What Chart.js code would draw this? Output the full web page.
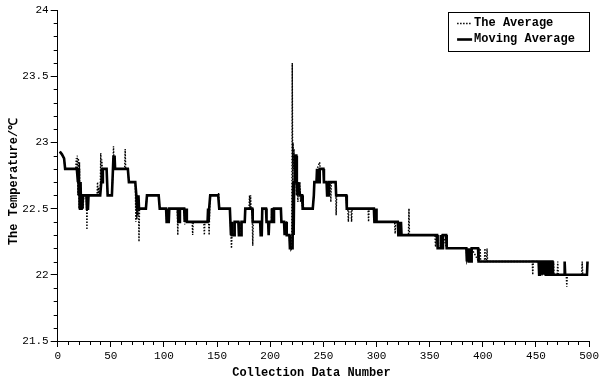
<!DOCTYPE html>
<html>
<head>
<meta charset="utf-8">
<script src="https://cdn.jsdelivr.net/npm/chart.js@4.4.1/dist/chart.umd.min.js"></script>
<style>
  html, body { margin: 0; padding: 0; background: #fff; }
  #wrap { width: 601px; height: 382px; }
</style>
</head>
<body>
<div id="wrap"><canvas id="c" width="601" height="382"></canvas></div>
<script>
// ---- data ----
const seriesNames = ["The Average", "Moving Average"];
const xAxisTitle = "Collection Data Number";
const yAxisTitle = "The Temperature/\u2103";
const xTickValues = [0, 50, 100, 150, 200, 250, 300, 350, 400, 450, 500];
const xTickLabels = ["0", "50", "100", "150", "200", "250", "300", "350", "400", "450", "500"];
const yTickValues = [21.5, 22, 22.5, 23, 23.5, 24];
const yTickLabels = ["21.5", "22", "22.5", "23", "23.5", "24"];

// "The Average" (dotted) : [collection number, temperature]
const averagePoints = [
  [2,22.93],[6,22.88],[7,22.8],[17,22.8],[17.5,22.88],[18,22.8],[18.5,22.9],[19,22.6],[19.5,22.88],[20,22.5],
  [20.5,22.85],[21,22.5],[21.5,22.7],[22,22.5],[23,22.6],[24,22.5],[24.5,22.6],[27,22.6],[27.5,22.34],[28,22.6],
  [37,22.6],[37.5,22.7],[38,22.6],[38.5,22.66],[39,22.6],[40,22.6],[40.5,22.92],[41,22.7],[41.5,22.87],[42,22.8],
  [46,22.8],[47,22.6],[51,22.6],[52,22.8],[52.5,22.97],[53,22.85],[53.5,22.9],[54,22.8],[63,22.8],[63.5,22.95],
  [64,22.8],[66,22.8],[67,22.7],[73,22.7],[73.5,22.4],[74,22.6],[74.5,22.42],[75,22.6],[75.5,22.45],[76,22.5],
  [76.5,22.25],[77,22.5],[83,22.5],[84,22.6],[95,22.6],[96,22.5],[102,22.5],[102.5,22.4],[104.5,22.4],[105,22.5],
  [112.5,22.5],[113,22.3],[113.5,22.5],[114,22.4],[115,22.5],[119,22.5],[119.5,22.38],[120,22.5],[121,22.4],[126.5,22.4],
  [127,22.3],[127.5,22.4],[137.5,22.4],[138,22.3],[138.5,22.4],[142,22.4],[142.5,22.3],[143,22.5],[143.5,22.6],[151,22.6],
  [151.5,22.62],[152,22.5],[162,22.5],[163,22.3],[163.5,22.2],[164,22.3],[166,22.3],[166.5,22.4],[170,22.4],[171,22.3],
  [173,22.4],[176,22.4],[176.5,22.5],[180,22.5],[180.5,22.6],[181,22.5],[181.5,22.6],[182,22.5],[183,22.5],[183.5,22.22],
  [184,22.4],[190.5,22.4],[191,22.3],[192,22.4],[192.5,22.5],[196,22.5],[196.5,22.4],[198,22.4],[198.5,22.3],[199,22.4],
  [201,22.4],[201.5,22.5],[210,22.5],[210.5,22.4],[215,22.4],[215.5,22.3],[218,22.3],[218.5,22.2],[219,22.3],[219.5,22.19],
  [220.3,22.2],[220.7,23.6],[221.1,22.7],[221.5,23.0],[222,22.8],[222.5,22.95],[223,22.7],[224,22.9],[224.5,22.6],[225,22.75],
  [226,22.55],[226.5,22.7],[227,22.6],[228,22.7],[228.5,22.55],[229,22.6],[230.5,22.5],[231,22.55],[231.5,22.5],[240,22.5],
  [241,22.6],[241.5,22.7],[243.5,22.7],[244,22.8],[246.5,22.85],[247,22.8],[250,22.8],[250.5,22.7],[253,22.7],[253.5,22.6],
  [255,22.6],[255.5,22.7],[256.5,22.7],[257,22.55],[257.5,22.7],[261.5,22.7],[262,22.45],[262.5,22.6],[271.5,22.6],[272,22.5],
  [273,22.5],[273.5,22.4],[274,22.5],[276,22.5],[276.5,22.4],[277,22.5],[292,22.5],[292.5,22.4],[293,22.5],[297.5,22.5],
  [298,22.4],[299,22.45],[300,22.4],[317,22.4],[317.5,22.31],[318,22.4],[320,22.4],[320.5,22.3],[321,22.38],[321.5,22.3],
  [323.5,22.3],[330,22.3],[330.5,22.5],[331,22.3],[355,22.3],[355.5,22.21],[356,22.3],[357,22.3],[357.5,22.2],[360,22.2],
  [360.5,22.3],[362.5,22.3],[366,22.2],[384.5,22.2],[385,22.1],[389.5,22.2],[396,22.1],[396.5,22.15],[397,22.1],[397.5,22.2],
  [398,22.1],[401.5,22.1],[402,22.2],[402.5,22.1],[403.5,22.1],[404,22.2],[404.5,22.1],[446.5,22.1],[447,22.0],[447.5,22.1],
  [452.5,22.1],[453,22.0],[466,22.0],[466.5,22.1],[467,22.0],[470,22.0],[470.5,22.1],[471,22.0],[478.5,22.0],[479,21.91],
  [479.5,22.0],[493,22.0],[493.5,22.1],[494,22.0],[498,22.0],[498.5,22.1]
];

// "Moving Average" (thick solid) : [collection number, temperature]
const movingAveragePoints = [
  [2,22.93],[4,22.91],[6,22.88],[7,22.8],[18,22.8],[19,22.7],[19.5,22.8],[20,22.6],[20.5,22.7],[21,22.5],
  [21.5,22.7],[22,22.5],[22.5,22.6],[23,22.5],[24,22.6],[27,22.6],[27.5,22.5],[28.5,22.5],[29,22.6],[40,22.6],
  [41,22.7],[41.5,22.8],[42,22.7],[42.5,22.8],[46,22.8],[47,22.6],[51,22.6],[52,22.8],[52.5,22.9],[53,22.8],
  [53.5,22.9],[54,22.8],[66,22.8],[67,22.7],[73,22.7],[74,22.6],[74.5,22.5],[75,22.6],[75.5,22.5],[76,22.6],
  [76.5,22.5],[83,22.5],[84,22.6],[95,22.6],[96,22.5],[102,22.5],[102.5,22.4],[104.5,22.4],[105,22.5],[113,22.5],
  [113.5,22.4],[114,22.5],[114.5,22.4],[115,22.5],[119,22.5],[119.5,22.4],[120,22.5],[120.5,22.4],[121,22.5],[121.5,22.4],
  [141,22.4],[141.5,22.5],[142,22.4],[142.5,22.5],[143.5,22.6],[151,22.6],[152,22.5],[162,22.5],[162.5,22.4],[163,22.3],
  [163.5,22.4],[164,22.3],[166,22.3],[166.5,22.4],[170,22.4],[170.5,22.3],[172.5,22.3],[173,22.4],[176,22.4],[176.5,22.5],
  [183,22.5],[183.5,22.4],[190.5,22.4],[191,22.3],[192,22.3],[192.5,22.5],[196,22.5],[196.5,22.4],[198,22.4],[198.5,22.3],
  [199,22.4],[201,22.4],[201.5,22.5],[202,22.4],[202.5,22.5],[203,22.4],[203.5,22.5],[210,22.5],[210.5,22.4],[213,22.4],
  [213.5,22.3],[214,22.4],[214.5,22.3],[215,22.4],[215.5,22.3],[218,22.3],[218.5,22.2],[221,22.2],[221.5,22.7],[222,22.3],
  [222.5,22.7],[223,22.9],[224.5,22.9],[225,22.7],[226,22.6],[226.5,22.7],[227,22.7],[228,22.6],[230,22.6],[230.5,22.5],
  [240,22.5],[241,22.6],[241.5,22.7],[243.5,22.7],[244,22.8],[245,22.7],[245.5,22.8],[246,22.7],[246.5,22.8],[250,22.8],
  [250.5,22.7],[253,22.7],[253.5,22.6],[255,22.6],[255.5,22.7],[261.5,22.7],[262,22.6],[271.5,22.6],[272,22.5],[297.5,22.5],
  [298,22.4],[298.5,22.5],[299,22.4],[299.5,22.5],[300,22.4],[320,22.4],[320.5,22.3],[321,22.4],[321.5,22.3],[322,22.4],
  [322.5,22.3],[323,22.4],[323.5,22.3],[357,22.3],[357.5,22.2],[360,22.2],[360.5,22.3],[361,22.2],[361.5,22.3],[362,22.2],
  [362.5,22.3],[365.5,22.3],[366,22.2],[384.5,22.2],[385,22.1],[385.5,22.2],[386,22.1],[386.5,22.2],[387,22.1],[387.5,22.2],
  [388,22.1],[388.5,22.2],[389,22.1],[389.5,22.2],[395.5,22.2],[396,22.1],[452.5,22.1],[453,22.0],[453.5,22.1],[455,22.1],
  [455.5,22.0],[456,22.1],[457,22.1],[457.5,22.0],[458,22.1],[459,22.1],[459.5,22.0],[460,22.1],[461,22.1],[461.5,22.0],
  [462,22.1],[463,22.1],[463.5,22.0],[464,22.1],[465.5,22.1],[466,22.0],[476.5,22.0],[477,22.1],[477.5,22.0],[498,22.0],
  [498.5,22.1]
];

// ---- chart ----
const MONO = '"Liberation Mono", "DejaVu Sans Mono", monospace';

const minorTicks = {
  id: 'minorTicks',
  afterDraw(chart) {
    const { ctx, chartArea, scales } = chart;
    const xs = scales.x, ys = scales.y;
    ctx.save();
    ctx.strokeStyle = '#000';
    ctx.lineWidth = 1;
    ctx.beginPath();
    for (let v = xs.min; v <= xs.max + 1e-9; v += 10) {
      if (Math.abs(v % 50) < 1e-6) continue;
      const px = Math.round(xs.getPixelForValue(v)) + 0.5;
      ctx.moveTo(px, chartArea.bottom);
      ctx.lineTo(px, chartArea.bottom + 4);
    }
    for (let k = 0; k <= 25; k++) {
      if (k % 5 === 0) continue;
      const v = ys.min + k * 0.1;
      const py = Math.round(ys.getPixelForValue(v)) + 0.5;
      ctx.moveTo(chartArea.left - 4, py);
      ctx.lineTo(chartArea.left, py);
    }
    ctx.stroke();
    ctx.restore();
  }
};

// axis titles placed like the reference (slightly off-centre)
const axisTitles = {
  id: 'axisTitles',
  afterDraw(chart) {
    const { ctx, chartArea } = chart;
    ctx.save();
    ctx.fillStyle = '#000';
    ctx.font = 'bold 12px ' + MONO;
    ctx.textAlign = 'center';
    ctx.textBaseline = 'middle';
    ctx.fillText(xAxisTitle, (chartArea.left + chartArea.right) / 2 - 12, chart.height - 9);
    ctx.translate(14, (chartArea.top + chartArea.bottom) / 2 + 6);
    ctx.rotate(-Math.PI / 2);
    ctx.fillText(yAxisTitle, 0, 0);
    ctx.restore();
  }
};

const boxLegend = {
  id: 'boxLegend',
  afterDraw(chart) {
    const { ctx, chartArea } = chart;
    const right = chartArea.right, top = chartArea.top + 2;
    const w = 141, h = 39;
    const left = right - w;
    ctx.save();
    ctx.strokeStyle = '#000';
    ctx.lineWidth = 1;
    ctx.setLineDash([]);
    ctx.strokeRect(Math.round(left) + 0.5, Math.round(top) + 0.5, w, h);
    const ds = chart.data.datasets;
    const rows = [
      { ds: ds[1], y: top + 11 },
      { ds: ds[0], y: top + 27 }
    ];
    ctx.font = 'bold 12px ' + MONO;
    ctx.fillStyle = '#000';
    ctx.textBaseline = 'middle';
    ctx.textAlign = 'left';
    for (const r of rows) {
      ctx.beginPath();
      ctx.lineWidth = r.ds.borderWidth;
      ctx.setLineDash(r.ds.borderDash || []);
      ctx.strokeStyle = r.ds.borderColor;
      ctx.moveTo(left + 9, Math.round(r.y) + 0.5);
      ctx.lineTo(left + 24, Math.round(r.y) + 0.5);
      ctx.stroke();
      ctx.setLineDash([]);
      ctx.fillText(r.ds.label, left + 26, r.y);
    }
    ctx.restore();
  }
};

new Chart(document.getElementById('c'), {
  type: 'line',
  data: {
    datasets: [
      {
        label: seriesNames[1],
        data: movingAveragePoints.map(p => ({ x: p[0], y: p[1] })),
        borderColor: '#000',
        borderWidth: 2.6,
        pointRadius: 0,
        tension: 0,
        order: 0
      },
      {
        label: seriesNames[0],
        data: averagePoints.map(p => ({ x: p[0], y: p[1] })),
        borderColor: '#000',
        borderWidth: 1.4,
        borderDash: [1.5, 1.5],
        pointRadius: 0,
        tension: 0,
        order: 1
      }
    ]
  },
  options: {
    responsive: false,
    animation: false,
    layout: { padding: { left: 0, right: 10, top: 10, bottom: 0 } },
    plugins: { legend: { display: false }, tooltip: { enabled: false } },
    scales: {
      x: {
        type: 'linear',
        min: 0, max: 500,
        afterBuildTicks: s => { s.ticks = xTickValues.map(v => ({ value: v })); },
        afterFit: s => { s.height = 41; },
        grid: { drawOnChartArea: false, drawTicks: true, tickLength: 6, color: '#000', tickColor: '#000' },
        border: { display: true, color: '#000', width: 1 },
        ticks: {
          color: '#000', font: { family: MONO, size: 11 }, padding: 2, maxRotation: 0, autoSkip: false,
          callback: (v) => xTickLabels[xTickValues.indexOf(v)]
        },
        title: { display: false }
      },
      y: {
        type: 'linear',
        min: 21.5, max: 24,
        afterBuildTicks: s => { s.ticks = yTickValues.map(v => ({ value: v })); },
        afterFit: s => { s.width = 57.7; },
        grid: { drawOnChartArea: false, drawTicks: true, tickLength: 7, color: '#000', tickColor: '#000' },
        border: { display: true, color: '#000', width: 1 },
        ticks: {
          color: '#000', font: { family: MONO, size: 11 }, padding: 2, autoSkip: false,
          callback: (v) => yTickLabels[yTickValues.indexOf(v)]
        },
        title: { display: false }
      }
    }
  },
  plugins: [minorTicks, axisTitles, boxLegend]
});
</script>
</body>
</html>
